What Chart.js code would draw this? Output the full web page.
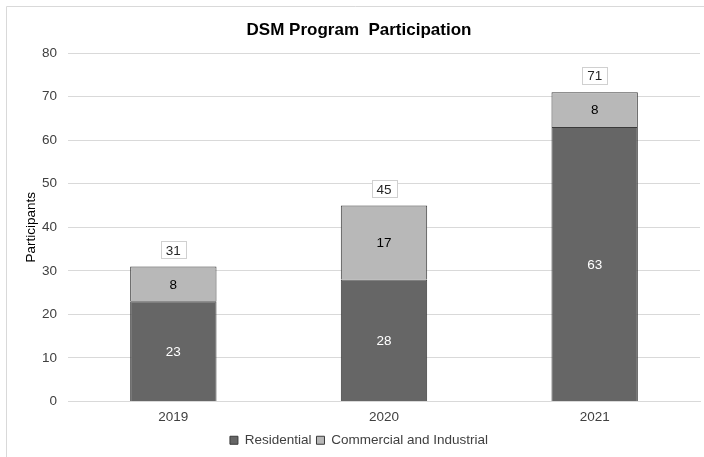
<!DOCTYPE html>
<html>
<head>
<meta charset="utf-8">
<script src="https://cdn.jsdelivr.net/npm/chart.js@4"></script>
<style>
  html, body { margin: 0; padding: 0; background: #fff; }
  #wrap { position: relative; width: 704px; height: 457px; }
</style>
</head>
<body>
<div id="wrap"><canvas id="dsmChart" width="704" height="457"></canvas></div>
<script>
const years = ['2019', '2020', '2021'];
const residential = [23, 28, 63];
const commercial = [8, 17, 8];
const totals = [31, 45, 71];

Chart.defaults.font.family = "'Liberation Sans', Arial, sans-serif";
Chart.defaults.font.size = 13.5;
Chart.defaults.color = '#404040';

// outer frame lines like the exported image
const framePlugin = {
    id: 'frame',
    beforeDraw(chart) {
        const ctx = chart.ctx;
        ctx.save();
        ctx.strokeStyle = '#d9d9d9';
        ctx.lineWidth = 1;
        ctx.beginPath();
        ctx.moveTo(6.5, chart.height);
        ctx.lineTo(6.5, 6.5);
        ctx.lineTo(chart.width, 6.5);
        ctx.stroke();
        ctx.restore();
    }
};

// value labels inside segments + boxed totals above the stacks
const labelPlugin = {
    id: 'labels',
    afterDatasetsDraw(chart) {
        const ctx = chart.ctx;
        ctx.save();
        ctx.font = "13.5px 'Liberation Sans', Arial, sans-serif";
        ctx.textAlign = 'center';
        ctx.textBaseline = 'middle';
        chart.data.datasets.forEach((ds, i) => {
            chart.getDatasetMeta(i).data.forEach((bar, j) => {
                const mid = (bar.y + bar.base) / 2;
                ctx.fillStyle = i === 0 ? '#ffffff' : '#000000';
                ctx.fillText(String(ds.data[j]), bar.x, mid + 1);
            });
        });
        const top = chart.getDatasetMeta(1).data;
        const yScale = chart.scales.y;
        totals.forEach((t, j) => {
            const x = top[j].x;
            const y = yScale.getPixelForValue(t) - 16.5;
            const w = 25, h = 17;
            const bx = Math.round(x - w / 2) + 0.5, by = Math.round(y - h / 2) + 0.5;
            ctx.fillStyle = '#ffffff';
            ctx.fillRect(bx, by, w, h);
            ctx.strokeStyle = '#d0d0d0';
            ctx.lineWidth = 1;
            ctx.strokeRect(bx, by, w, h);
            ctx.fillStyle = '#262626';
            ctx.fillText(String(t), x, y + 1);
        });
        ctx.restore();
    }
};

new Chart(document.getElementById('dsmChart'), {
    type: 'bar',
    data: {
        labels: years,
        datasets: [
            {
                label: 'Residential',
                data: residential,
                backgroundColor: '#666666',
                borderColor: '#3a3a3a',
                borderWidth: 1,
                categoryPercentage: 1,
                barPercentage: 0.41
            },
            {
                label: 'Commercial and Industrial',
                data: commercial,
                backgroundColor: '#b8b8b8',
                borderColor: '#3a3a3a',
                borderWidth: 1,
                categoryPercentage: 1,
                barPercentage: 0.41
            }
        ]
    },
    options: {
        responsive: false,
        animation: false,
        layout: { padding: { left: 18, right: 4, top: 0, bottom: 0 } },
        plugins: {
            title: {
                display: true,
                text: 'DSM Program  Participation',
                color: '#000000',
                font: { size: 17, weight: 'bold' },
                padding: { top: 20, bottom: 12.6 }
            },
            legend: {
                position: 'bottom',
                labels: {
                    boxWidth: 8,
                    boxHeight: 8,
                    color: '#404040',
                    padding: 5
                }
            },
            tooltip: { enabled: false }
        },
        scales: {
            x: {
                stacked: true,
                afterFit(scale) { scale.height = 27; },
                grid: { display: false, drawTicks: false },
                border: { color: '#d9d9d9' },
                ticks: { padding: 8, color: '#404040' }
            },
            y: {
                stacked: true,
                min: 0,
                max: 80,
                afterFit(scale) { scale.width = 50; },
                ticks: { stepSize: 10, padding: 11, color: '#404040' },
                grid: { color: '#d9d9d9', drawTicks: false },
                border: { display: false },
                title: {
                    display: true,
                    text: 'Participants',
                    color: '#000000',
                    font: { size: 13.5 },
                    padding: { top: 5, bottom: 0 }
                }
            }
        }
    },
    plugins: [framePlugin, labelPlugin]
});
</script>
</body>
</html>
